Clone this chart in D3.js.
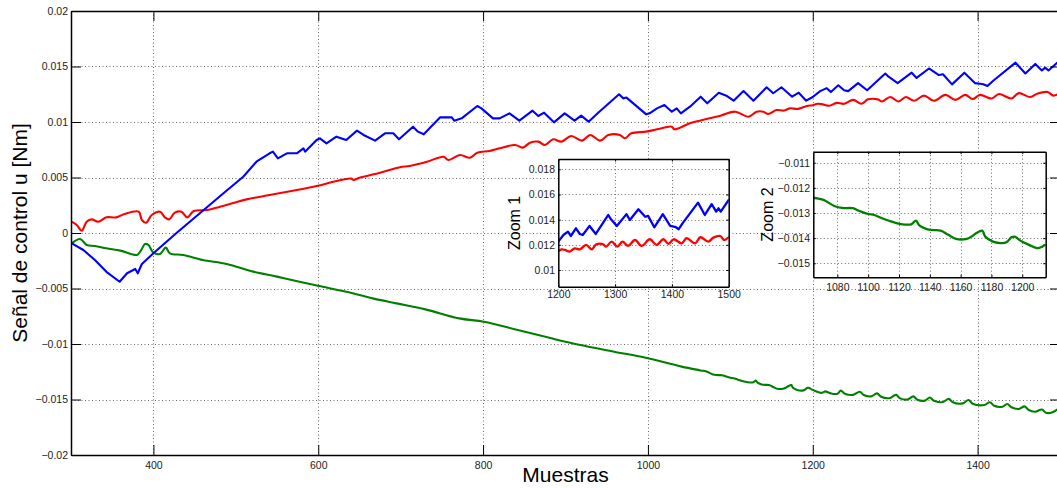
<!DOCTYPE html>
<html>
<head>
<meta charset="utf-8">
<script src="https://cdn.jsdelivr.net/npm/d3@7"></script>
<style>
  html, body { margin: 0; padding: 0; background: #fff; }
  svg { display: block; font-family: "Liberation Sans", Arial, Helvetica, sans-serif; }
</style>
</head>
<body>
<svg id="chart" width="1057" height="488"></svg>
<script>
// Control signal u [Nm] per sample, three channels: [sample, value]
const uBlue = [
  [301,-0.00093],[315,-0.00153],[329,-0.00243],[343,-0.0035],[359,-0.00439],[368,-0.00363],
  [378,-0.00324],[381,-0.00363],[386,-0.00279],[400,-0.00183],[428,0.0],[461,0.00207],
  [485,0.00358],[509,0.00507],[525,0.00642],[541,0.00718],[545,0.00733],[551,0.00673],
  [562,0.00718],[574,0.00718],[582,0.00763],[584,0.00733],[598,0.00838],[602,0.00853],
  [610,0.00808],[622,0.00868],[634,0.00838],[647,0.00922],[655,0.00883],[669,0.00832],
  [681,0.00898],[691,0.00898],[698,0.00844],[715,0.00958],[721,0.00913],[728,0.00889],
  [748,0.01042],[762,0.01042],[765,0.01012],[774,0.01033],[793,0.01144],[798,0.01123],
  [812,0.01033],[820,0.01033],[832,0.01078],[844,0.01012],[860,0.01102],[867,0.01054],
  [874,0.01084],[886,0.00997],[899,0.01078],[911,0.01012],[919,0.01057],[928,0.01003],
  [941,0.01093],[965,0.0125],[970,0.01213],[974,0.0122],[998,0.01069],[1002,0.01078],
  [1011,0.01123],[1020,0.01153],[1029,0.01093],[1035,0.01123],[1040,0.01078],[1051,0.01138],
  [1064,0.01228],[1072,0.01168],[1086,0.01264],[1096,0.01234],[1104,0.01192],[1116,0.01279],
  [1128,0.01192],[1144,0.01313],[1152,0.01259],[1162,0.01313],[1175,0.01228],[1183,0.01264],
  [1192,0.01192],[1200,0.01225],[1209,0.01278],[1217,0.01305],[1222,0.0127],[1231,0.01331],
  [1238,0.01286],[1243,0.01278],[1255,0.0135],[1266,0.01286],[1288,0.01437],[1292,0.01408],
  [1303,0.0135],[1320,0.01444],[1326,0.01397],[1341,0.01482],[1353,0.01423],[1358,0.0143],
  [1369,0.01339],[1384,0.01444],[1397,0.0135],[1403,0.01344],[1407,0.0134],[1412,0.01324],
  [1419,0.01372],[1446,0.01535],[1458,0.01437],[1470,0.01523],[1478,0.01464],[1482,0.0149],
  [1486,0.01464],[1500,0.01556]
];

const uRed = [
  [300,0.00105],[307,0.00072],[313,0.0002],[319,0.00102],[325,0.00123],[333,0.00102],
  [343,0.00141],[355,0.00141],[365,0.00171],[382,0.00192],[386,0.00117],[391,0.00093],
  [398,0.00162],[408,0.00192],[414,0.00141],[419,0.00123],[426,0.00183],[434,0.00192],
  [441,0.00141],[449,0.00198],[465,0.00207],[481,0.00237],[497,0.0027],[513,0.00303],
  [541,0.00342],[574,0.00387],[598,0.00423],[622,0.00468],[640,0.0049],[643,0.00478],
  [650,0.00498],[675,0.00543],[699,0.00592],[711,0.00604],[732,0.00642],[752,0.00687],
  [758,0.00658],[772,0.00703],[784,0.00678],[793,0.00723],[808,0.00739],[820,0.00763],
  [839,0.00793],[848,0.00769],[857,0.00814],[867,0.00823],[875,0.00793],[885,0.00844],
  [895,0.00823],[907,0.00874],[920,0.00832],[930,0.00883],[942,0.00832],[952,0.00883],
  [966,0.00883],[972,0.00853],[980,0.00898],[998,0.00913],[1011,0.00934],[1029,0.00958],
  [1032,0.00934],[1051,0.00988],[1063,0.01012],[1088,0.01057],[1106,0.01093],[1122,0.01048],
  [1132,0.01093],[1140,0.01093],[1146,0.01072],[1156,0.01108],[1165,0.01103],[1172,0.01123],
  [1182,0.01118],[1193,0.01144],[1200,0.01151],[1206,0.01164],[1212,0.01159],[1220,0.01146],
  [1229,0.01172],[1238,0.01164],[1249,0.01199],[1259,0.01164],[1267,0.01204],[1279,0.01204],
  [1284,0.01185],[1294,0.01225],[1304,0.01185],[1313,0.01225],[1323,0.01191],[1335,0.01238],
  [1347,0.01191],[1361,0.01244],[1373,0.01199],[1385,0.01244],[1394,0.01207],[1403,0.01244],
  [1417,0.01212],[1426,0.01252],[1441,0.01212],[1450,0.0126],[1464,0.01225],[1473,0.01257],
  [1485,0.0127],[1492,0.01238],[1500,0.0126]
];

const uGreen = [
  [301,-0.00093],[311,-0.00054],[319,-0.00108],[329,-0.00117],[343,-0.00138],[360,-0.00159],
  [380,-0.00198],[384,-0.00168],[390,-0.00099],[394,-0.00108],[400,-0.00177],[408,-0.00189],
  [415,-0.00132],[420,-0.00183],[436,-0.00198],[460,-0.00243],[489,-0.00279],[521,-0.00348],
  [550,-0.00393],[580,-0.00443],[601,-0.00477],[634,-0.00529],[666,-0.00589],[695,-0.00634],
  [730,-0.00688],[771,-0.00769],[801,-0.00799],[842,-0.00874],[883,-0.00949],[918,-0.01009],
  [959,-0.01069],[1000,-0.01129],[1041,-0.01204],[1064,-0.01238],[1071,-0.01248],[1078,-0.01272],
  [1083,-0.0128],[1090,-0.01281],[1094,-0.01291],[1100,-0.01304],[1104,-0.01308],[1109,-0.01321],
  [1113,-0.0133],[1121,-0.01344],[1128,-0.01345],[1131,-0.0133],[1133,-0.01348],[1138,-0.01364],
  [1142,-0.01368],[1147,-0.0137],[1152,-0.01387],[1157,-0.01403],[1164,-0.01403],[1167,-0.01394],
  [1170,-0.01381],[1174,-0.0137],[1176,-0.01394],[1181,-0.01414],[1187,-0.0142],[1190,-0.01415],
  [1193,-0.01397],[1195,-0.01394],[1199,-0.01411],[1203,-0.01423],[1210,-0.0144],[1213,-0.01434],
  [1215,-0.01427],[1222,-0.01445],[1230,-0.01448],[1234,-0.0142],[1239,-0.01448],[1249,-0.01458],
  [1257,-0.0143],[1262,-0.0146],[1271,-0.01472],[1278,-0.01445],[1283,-0.01475],[1293,-0.01488],
  [1301,-0.01458],[1306,-0.0149],[1315,-0.015],[1322,-0.01472],[1327,-0.01502],[1336,-0.0151],
  [1342,-0.01482],[1347,-0.01512],[1358,-0.01522],[1365,-0.01494],[1370,-0.01525],[1382,-0.01535],
  [1389,-0.01505],[1394,-0.01538],[1408,-0.0155],[1415,-0.01525],[1420,-0.01556],[1430,-0.01565],
  [1436,-0.0154],[1441,-0.0157],[1450,-0.01585],[1457,-0.01562],[1462,-0.01595],[1470,-0.0161],
  [1478,-0.0159],[1483,-0.0162],[1490,-0.01618],[1497,-0.0159],[1500,-0.01585]
];

// Tick values
const xTicksMain  = [400, 600, 800, 1000, 1200, 1400];
const yTicksMain  = [-0.02, -0.015, -0.01, -0.005, 0, 0.005, 0.01, 0.015, 0.02];
const xTicksZoom1 = [1200, 1300, 1400, 1500];
const yTicksZoom1 = [0.01, 0.012, 0.014, 0.016, 0.018];
const xTicksZoom2 = [1080, 1100, 1120, 1140, 1160, 1180, 1200];
const yTicksZoom2 = [-0.015, -0.014, -0.013, -0.012, -0.011];

const COLOR_BLUE = "#0000ff", COLOR_RED = "#ff0000", COLOR_GREEN = "#008000";
const fmt = d3.format("~g");

const svg = d3.select("#chart");
svg.append("rect").attr("width", 1057).attr("height", 488).attr("fill", "#fff");

let clipId = 0;
function drawPanel(cfg) {
  const g = svg.append("g");
  const x = d3.scaleLinear(cfg.xDomain, [cfg.left, cfg.right]);
  const y = d3.scaleLinear(cfg.yDomain, [cfg.bottom, cfg.top]);

  g.append("rect")
    .attr("x", cfg.left).attr("y", cfg.top)
    .attr("width", cfg.right - cfg.left).attr("height", cfg.bottom - cfg.top)
    .attr("fill", "#fff");

  // dotted grid
  const grid = g.append("g").attr("stroke", "#6a6a6a").attr("stroke-width", 1)
    .attr("stroke-dasharray", "1,2.5");
  grid.selectAll("line.gx")
    .data(cfg.xTicks.filter(t => x(t) > cfg.left + 1 && x(t) < cfg.right - 1))
    .join("line")
      .attr("x1", d => Math.round(x(d)) + 0.5).attr("x2", d => Math.round(x(d)) + 0.5)
      .attr("y1", cfg.top).attr("y2", cfg.bottom);
  grid.selectAll("line.gy")
    .data(cfg.yTicks.filter(t => y(t) > cfg.top + 1 && y(t) < cfg.bottom - 1))
    .join("line")
      .attr("y1", d => Math.round(y(d)) + 0.5).attr("y2", d => Math.round(y(d)) + 0.5)
      .attr("x1", cfg.left).attr("x2", cfg.right);

  // data lines
  const id = "clip" + (clipId++);
  svg.append("clipPath").attr("id", id).append("rect")
    .attr("x", cfg.left).attr("y", cfg.top)
    .attr("width", cfg.right - cfg.left).attr("height", cfg.bottom - cfg.top);
  const lines = g.append("g").attr("clip-path", `url(#${id})`);
  cfg.series.forEach(s => {
    const line = d3.line().x(d => x(d[0])).y(d => y(d[1])).curve(s.curve);
    lines.append("path").datum(s.data)
      .attr("d", line).attr("fill", "none")
      .attr("stroke", s.color).attr("stroke-width", cfg.lineWidth)
      .attr("stroke-linejoin", "round").attr("stroke-linecap", "round");
  });

  // axes with inward ticks on all four sides
  const tl = cfg.tickLen;
  const styleAxis = sel => {
    sel.attr("font-family", null).attr("font-size", null);
    sel.selectAll(".domain").attr("stroke", "#000").attr("stroke-width", cfg.spineWidth);
    sel.selectAll(".tick line").attr("stroke", "#000").attr("stroke-width", 1);
    sel.selectAll(".tick text").attr("fill", "#222").style("font-size", cfg.tickFont + "px");
  };
  g.append("g").attr("transform", `translate(0,${cfg.bottom})`)
    .call(d3.axisBottom(x).tickValues(cfg.xTicks).tickSizeInner(-tl).tickSizeOuter(0)
      .tickPadding(cfg.xPad).tickFormat(fmt)).call(styleAxis);
  g.append("g").attr("transform", `translate(0,${cfg.top})`)
    .call(d3.axisTop(x).tickValues(cfg.xTicks).tickSizeInner(-tl).tickSizeOuter(0)
      .tickFormat(() => "")).call(styleAxis);
  g.append("g").attr("transform", `translate(${cfg.left},0)`)
    .call(d3.axisLeft(y).tickValues(cfg.yTicks).tickSizeInner(-tl).tickSizeOuter(0)
      .tickPadding(cfg.yPad).tickFormat(fmt)).call(styleAxis);
  g.append("g").attr("transform", `translate(${cfg.right},0)`)
    .call(d3.axisRight(y).tickValues(cfg.yTicks).tickSizeInner(-tl).tickSizeOuter(0)
      .tickFormat(() => "")).call(styleAxis);

  if (cfg.yLabel) {
    g.append("text")
      .attr("transform", `translate(${cfg.yLabel.x},${(cfg.top + cfg.bottom) / 2}) rotate(-90)`)
      .attr("text-anchor", "middle")
      .style("font-size", cfg.yLabel.size + "px")
      .attr("fill", "#000")
      .text(cfg.yLabel.text);
  }
  if (cfg.xLabel) {
    g.append("text")
      .attr("x", (cfg.left + cfg.right) / 2).attr("y", cfg.xLabel.y)
      .attr("text-anchor", "middle")
      .style("font-size", cfg.xLabel.size + "px")
      .attr("fill", "#000")
      .text(cfg.xLabel.text);
  }
}

// main plot
drawPanel({
  left: 71, right: 1060, top: 11, bottom: 455,
  xDomain: [300, 1500], yDomain: [-0.02, 0.02],
  xTicks: xTicksMain, yTicks: yTicksMain,
  tickLen: 10, xPad: 7, yPad: 3, tickFont: 10.5, spineWidth: 1.5, lineWidth: 2.1,
  series: [
    { data: uGreen, color: COLOR_GREEN, curve: d3.curveCatmullRom },
    { data: uRed,   color: COLOR_RED,   curve: d3.curveCatmullRom },
    { data: uBlue,  color: COLOR_BLUE,  curve: d3.curveLinear }
  ],
  yLabel: { text: "Señal de control u [Nm]", x: 26.5, size: 21 },
  xLabel: { text: "Muestras", y: 482, size: 21 }
});

// zoom 1: blue and red, samples 1200–1500
drawPanel({
  left: 558.3, right: 728.7, top: 159, bottom: 286.7,
  xDomain: [1200, 1500], yDomain: [0.00867, 0.01882],
  xTicks: xTicksZoom1, yTicks: yTicksZoom1,
  tickLen: 2.5, xPad: 4, yPad: 3.3, tickFont: 10.5, spineWidth: 1.5, lineWidth: 2.3,
  series: [
    { data: uRed,  color: COLOR_RED,  curve: d3.curveCatmullRom },
    { data: uBlue, color: COLOR_BLUE, curve: d3.curveLinear }
  ],
  yLabel: { text: "Zoom 1", x: 520, size: 16 }
});

// zoom 2: green, samples ~1064–1215
drawPanel({
  left: 813.3, right: 1045.7, top: 151.7, bottom: 277.3,
  xDomain: [1064.4, 1215.2], yDomain: [-0.01556, -0.01056],
  xTicks: xTicksZoom2, yTicks: yTicksZoom2,
  tickLen: 2.5, xPad: 6, yPad: 3.3, tickFont: 10.5, spineWidth: 1.5, lineWidth: 2.3,
  series: [
    { data: uGreen, color: COLOR_GREEN, curve: d3.curveCatmullRom }
  ],
  yLabel: { text: "Zoom 2", x: 773, size: 16 }
});
</script>
</body>
</html>
